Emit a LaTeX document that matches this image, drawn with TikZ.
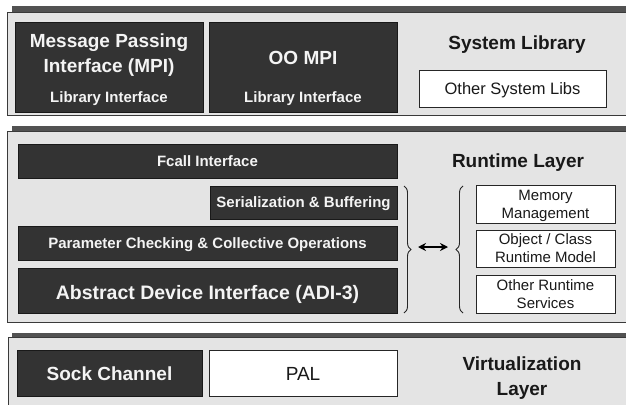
\documentclass[tikz,border=0pt]{standalone}
\usepackage{fontspec}
\setmainfont{Liberation Sans}
\usetikzlibrary{decorations.pathreplacing,arrows.meta}

\definecolor{panelfill}{HTML}{E4E4E4}
\definecolor{darkfill}{HTML}{333333}
\definecolor{shadowgray}{HTML}{525252}
\definecolor{rimgray}{HTML}{3A3A3A}
\definecolor{lighttext}{HTML}{F4F4F4}

\tikzset{
  panel/.style={fill=panelfill, draw=rimgray, line width=0.9pt},
  panelshadow/.style={fill=shadowgray, draw=none},
  darkbox/.style={fill=darkfill, draw=black!90, line width=0.6pt, inner sep=0pt},
  whitebox/.style={fill=white, draw=black!85, line width=0.8pt, inner sep=0pt},
  bigwhite/.style={text=lighttext, font=\fontsize{19}{23}\selectfont\bfseries, anchor=base, inner sep=0pt},
  smallwhite/.style={text=lighttext, font=\fontsize{15}{18}\selectfont\bfseries, anchor=base, inner sep=0pt},
  layertitle/.style={text=black!90, font=\fontsize{19}{23}\selectfont\bfseries, anchor=base, inner sep=0pt},
  plaintext/.style={text=black!90, font=\fontsize{15}{18}\selectfont, anchor=base, inner sep=0pt},
  bigplain/.style={text=black!90, font=\fontsize{19}{23}\selectfont, anchor=base, inner sep=0pt},
  bracket/.style={decorate, decoration={brace, amplitude=7pt}, draw=black!85, line width=0.9pt},
  dblarrow/.style={{Stealth[length=8pt,width=8pt]}-{Stealth[length=8pt,width=8pt]}, line width=1.4pt, draw=black},
}

\begin{document}
\begin{tikzpicture}[x=1pt, y=-1pt]
\clip (0,0) rectangle (626,404);
\fill[white] (0,0) rectangle (626,404);

% ---------------- System library layer ----------------
\fill[panelshadow] (12,6) rectangle (640,12);
\draw[panel] (7,12) rectangle (640,115);

\node[darkbox, minimum width=188pt, minimum height=90pt] (mpi) at (109,67) {};
\node[bigwhite] (mpiA) at (109,48) {Message Passing};
\node[bigwhite] (mpiB) at (109,73) {Interface (MPI)};
\node[smallwhite] (mpiC) at (109,102) {Library Interface};

\node[darkbox, minimum width=188pt, minimum height=90pt] (oompi) at (303,67) {};
\node[bigwhite] (oompiA) at (303,64) {OO MPI};
\node[smallwhite] (oompiB) at (303,102) {Library Interface};

\node[layertitle] (syslib) at (517,50) {System Library};
\node[whitebox, minimum width=187pt, minimum height=37pt] (otherlibs) at (512.5,88.5) {};
\node[bigplain, font=\fontsize{16.5}{20}\selectfont] (otherlibsT) at (512.5,94) {Other System Libs};

% ---------------- Runtime layer ----------------
\fill[panelshadow] (12,126) rectangle (640,131);
\draw[panel] (7,131) rectangle (640,322);

\node[darkbox, minimum width=379pt, minimum height=34pt] (fcall) at (207.5,161) {};
\node[smallwhite] (fcallT) at (207.5,166) {Fcall Interface};

\node[darkbox, minimum width=187pt, minimum height=33pt] (ser) at (303.5,202.5) {};
\node[smallwhite] (serT) at (303.5,207.5) {Serialization \& Buffering};

\node[darkbox, minimum width=379pt, minimum height=34pt] (param) at (207.5,243) {};
\node[smallwhite] (paramT) at (207.5,248) {Parameter Checking \& Collective Operations};

\node[darkbox, minimum width=379pt, minimum height=45pt] (adi) at (207.5,290.5) {};
\node[bigwhite, font=\fontsize{19.5}{23}\selectfont\bfseries] (adiT) at (207.5,299) {Abstract Device Interface (ADI-3)};

\node[layertitle] (runtime) at (518,167) {Runtime Layer};

\node[whitebox, minimum width=139pt, minimum height=38pt] (mem) at (545.5,204) {};
\node[plaintext] (memA) at (545.5,200) {Memory};
\node[plaintext] (memB) at (545.5,218) {Management};

\node[whitebox, minimum width=139pt, minimum height=37pt] (obj) at (545.5,248.5) {};
\node[plaintext] (objA) at (545.5,244) {Object / Class};
\node[plaintext] (objB) at (545.5,262) {Runtime Model};

\node[whitebox, minimum width=139pt, minimum height=38pt] (oth) at (545.5,294) {};
\node[plaintext] (othA) at (545.5,290.5) {Other Runtime};
\node[plaintext] (othB) at (545.5,308) {Services};

% braces grouping the lower stack and the runtime services
\coordinate (braceLtop) at (404,186);
\coordinate (braceLbot) at (404,313);
\coordinate (braceRtop) at (463,186);
\coordinate (braceRbot) at (463,313);
\draw[bracket] (braceLtop) -- (braceLbot);
\draw[bracket] (braceRbot) -- (braceRtop);

\coordinate (arrowL) at (418,247);
\coordinate (arrowR) at (448,247);
\draw[dblarrow] (arrowL) -- (arrowR);

% ---------------- Virtualization layer ----------------
\fill[panelshadow] (12,333) rectangle (640,337);
\draw[panel] (8,337) rectangle (640,420);

\node[darkbox, minimum width=185pt, minimum height=46pt] (sock) at (109.5,373) {};
\node[bigwhite] (sockT) at (109.5,380) {Sock Channel};

\node[whitebox, minimum width=188pt, minimum height=46pt] (pal) at (303,373) {};
\node[bigplain] (palT) at (303,380) {PAL};

\node[layertitle] (virtA) at (522,370) {Virtualization};
\node[layertitle] (virtB) at (522,395) {Layer};
\end{tikzpicture}
\end{document}
